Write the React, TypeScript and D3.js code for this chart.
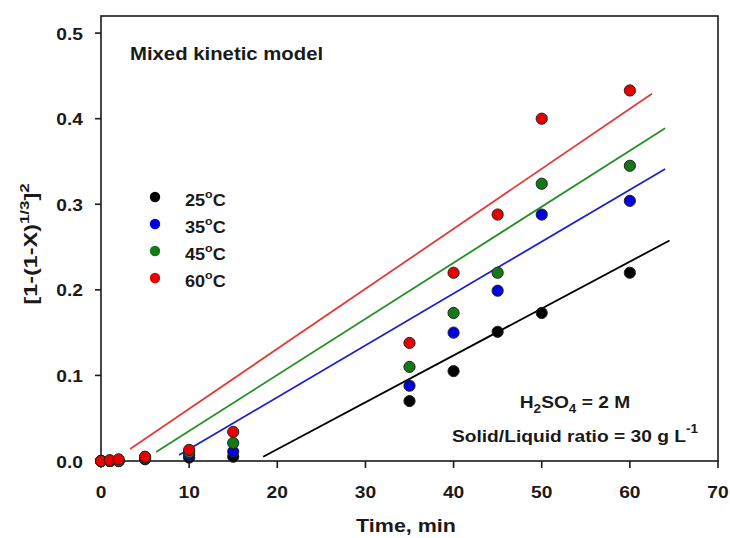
import React from "react";
import * as d3 from "d3";

// time points (min)
const times = [0, 1, 2, 5, 10, 15, 35, 40, 45, 50, 60];

// [1-(1-X)^(1/3)]^2 per temperature
const series25 = [0, 0, 0, 0.002, 0.004, 0.005, 0.07, 0.105, 0.151, 0.173, 0.22];
const series35 = [0, 0, 0, 0.003, 0.007, 0.011, 0.088, 0.15, 0.199, 0.288, 0.304];
const series45 = [0, 0, 0, 0.004, 0.01, 0.021, 0.11, 0.173, 0.22, 0.324, 0.345];
const series60 = [0, 0.001, 0.002, 0.005, 0.013, 0.034, 0.138, 0.22, 0.288, 0.4, 0.433];

const temps = ["25", "35", "45", "60"];

// linear fits: y = slope * t + intercept, drawn from fitFrom to fitTo
const fitSlope = [0.00548, 0.00606, 0.00655, 0.00701];
const fitIntercept = [-0.0958, -0.0467, -0.0304, -0.0091];
const fitFrom = [18.4, 8.86, 6.25, 3.3];
const fitTo = [64.5, 64.0, 64.0, 62.5];

const xTicks = [0, 10, 20, 30, 40, 50, 60, 70];
const yTicks = [0, 0.1, 0.2, 0.3, 0.4, 0.5];

const allSeries = [series25, series35, series45, series60];
const dotColors = ["#000000", "#0000e0", "#127a12", "#e80000"];
const lineColors = ["#000000", "#1f1fd0", "#239023", "#e23a36"];

const W = 730;
const H = 538;
const left = 101;
const right = 718;
const top = 16;
const bottom = 461;
const SX = 1.13;
const FONT = "'Liberation Sans', Arial, sans-serif";
const INK = "#1a1a1a";

function Txt({ x, y, size, anchor = "start", sx = SX, children }: any) {
    return (
        <text
            transform={`translate(${x},${y}) scale(${sx},1)`}
            textAnchor={anchor}
            fontSize={size}
            fontWeight="bold"
            fontFamily={FONT}
            fill={INK}
        >
            {children}
        </text>
    );
}

export default function App() {
    const x = d3.scaleLinear().domain([0, 70]).range([left, right]);
    const y = d3.scaleLinear().domain([0, 0.52]).range([bottom, top]);
    const fmt = d3.format(".1f");

    return (
        <svg
            width={W}
            height={H}
            style={{ position: "absolute", left: 0, top: 0, background: "#fff" }}
        >
            {/* fitted lines */}
            {fitSlope.map((s, i) => (
                <line
                    key={"fit" + i}
                    x1={x(fitFrom[i])}
                    y1={y(s * fitFrom[i] + fitIntercept[i])}
                    x2={x(fitTo[i])}
                    y2={y(s * fitTo[i] + fitIntercept[i])}
                    stroke={lineColors[i]}
                    strokeWidth={1.8}
                />
            ))}

            {/* frame */}
            <rect
                x={left}
                y={top}
                width={right - left}
                height={bottom - top}
                fill="none"
                stroke={INK}
                strokeWidth={1.6}
            />

            {/* x ticks */}
            {xTicks.map((t) => (
                <g key={"xt" + t}>
                    <line x1={x(t)} x2={x(t)} y1={bottom} y2={bottom + 7} stroke={INK} strokeWidth={1.6} />
                    <Txt x={x(t)} y={498} size={17} anchor="middle">{t}</Txt>
                </g>
            ))}

            {/* y ticks */}
            {yTicks.map((t) => (
                <g key={"yt" + t}>
                    <line x1={left - 6} x2={left} y1={y(t)} y2={y(t)} stroke={INK} strokeWidth={1.6} />
                    <Txt x={83} y={y(t) + 6.5} size={17} anchor="end">{fmt(t)}</Txt>
                </g>
            ))}

            {/* data points */}
            {allSeries.map((vals, i) =>
                vals.map((v, j) => (
                    <circle
                        key={"p" + i + "-" + j}
                        cx={x(times[j])}
                        cy={y(v)}
                        r={5.6}
                        fill={dotColors[i]}
                        stroke="#222"
                        strokeWidth={1}
                    />
                ))
            )}

            {/* legend */}
            {temps.map((t, i) => (
                <g key={"lg" + t}>
                    <circle cx={155} cy={197 + i * 27} r={5.2} fill={dotColors[i]} />
                    <Txt x={185} y={206 + i * 27} size={16}>
                        {t}
                        <tspan fontSize={11} dy={-8}>o</tspan>
                        <tspan dy={8}>C</tspan>
                    </Txt>
                </g>
            ))}

            {/* title */}
            <Txt x={130} y={60} size={18}>Mixed kinetic model</Txt>

            {/* conditions */}
            <Txt x={575} y={408} size={17} anchor="middle">
                H<tspan fontSize={12} dy={5}>2</tspan>
                <tspan dy={-5}>SO</tspan>
                <tspan fontSize={12} dy={5}>4</tspan>
                <tspan dy={-5}> = 2 M</tspan>
            </Txt>
            <Txt x={575} y={442} size={17} anchor="middle">
                Solid/Liquid ratio = 30 g L<tspan fontSize={12} dy={-9}>-1</tspan>
            </Txt>

            {/* axis titles */}
            <Txt x={406} y={532} size={19} anchor="middle">Time, min</Txt>
            <text
                transform={`translate(37,244) rotate(-90) scale(1.3,1)`}
                textAnchor="middle"
                fontSize={18}
                fontWeight="bold"
                fontFamily={FONT}
                fill={INK}
            >
                [1-(1-X)
                <tspan fontSize={13} dy={-8}>1/3</tspan>
                <tspan dy={8}>]</tspan>
                <tspan fontSize={13} dy={-8}>2</tspan>
            </text>
        </svg>
    );
}
